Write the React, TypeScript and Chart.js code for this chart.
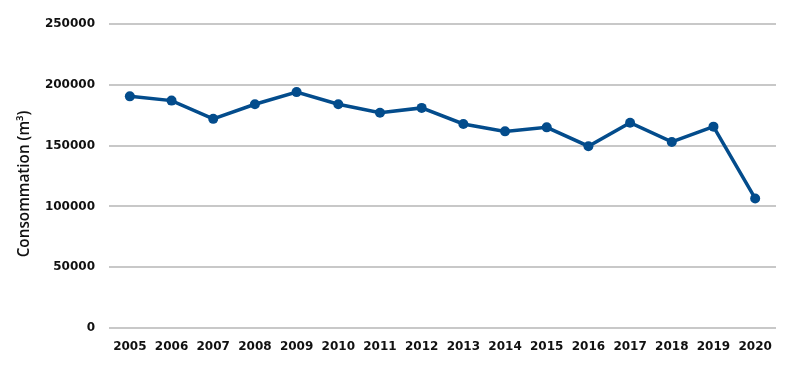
import React, { useEffect, useRef } from "react";
import { Chart, registerables } from "chart.js";

Chart.register(...registerables);

const years = ["2005", "2006", "2007", "2008", "2009", "2010", "2011", "2012", "2013", "2014", "2015", "2016", "2017", "2018", "2019", "2020"];
const consumption = [190500, 187000, 172000, 184000, 194000, 184000, 177000, 181000, 167800, 161700, 165000, 149500, 168800, 153000, 165600, 106500];
const yTickMin = 0;
const yTickMax = 250000;
const yTickStep = 50000;
const yTitle = "Consommation (m³)    ";

const lineColor = "#034c8c";
const gridColor = "#c8c8c8";

export default function App() {
  const canvasRef = useRef<HTMLCanvasElement | null>(null);

  useEffect(() => {
    document.body.style.margin = "0";
    const canvas = canvasRef.current;
    if (!canvas) return;
    const chart = new Chart(canvas, {
      type: "line",
      data: {
        labels: years,
        datasets: [
          {
            data: consumption,
            borderColor: lineColor,
            backgroundColor: lineColor,
            borderWidth: 3.5,
            pointRadius: 5,
            pointBackgroundColor: lineColor,
            pointBorderColor: lineColor,
            pointBorderWidth: 0,
            tension: 0,
            fill: false,
          },
        ],
      },
      options: {
        animation: false,
        responsive: false,
        maintainAspectRatio: false,
        layout: { padding: { left: 15, right: 13, top: 24, bottom: 0 } },
        plugins: { legend: { display: false }, tooltip: { enabled: false } },
        scales: {
          x: {
            offset: true,
            grid: { display: false, drawTicks: false },
            border: { display: false },
            ticks: {
              color: "#111",
              padding: 12,
              maxRotation: 0,
              autoSkip: false,
              font: { family: "'DejaVu Sans'", size: 12, weight: "bold" },
            },
            afterFit: (axis: any) => {
              axis.height = 37;
            },
          },
          y: {
            min: yTickMin,
            max: yTickMax,
            grid: { color: gridColor, lineWidth: 2, drawTicks: false },
            border: { display: false },
            ticks: {
              stepSize: yTickStep,
              color: "#111",
              padding: 14,
              font: { family: "'DejaVu Sans'", size: 12, weight: "bold" },
              callback: (value: any) => String(value),
            },
            title: {
              display: true,
              text: yTitle,
              color: "#111",
              padding: { top: 0, bottom: 4 },
              font: { family: "'Open Sans'", size: 15.3, weight: 600 },
            },
            afterFit: (axis: any) => {
              axis.width = 94;
            },
          },
        },
      },
    });
    return () => chart.destroy();
  }, []);

  return (
    <div style={{ position: "absolute", left: 0, top: 0, width: 789, height: 365, background: "#fff" }}>
      <canvas ref={canvasRef} width={789} height={365} style={{ width: 789, height: 365 }} />
    </div>
  );
}
